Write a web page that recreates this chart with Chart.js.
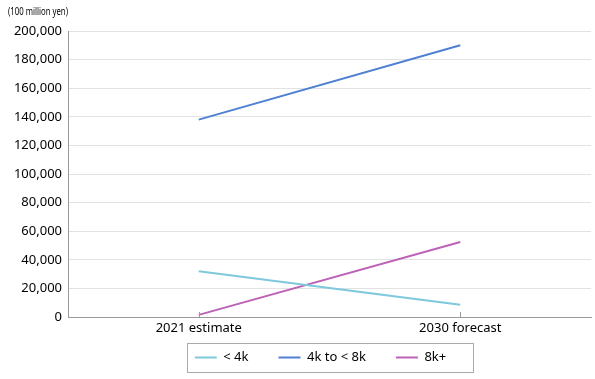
<!DOCTYPE html>
<html>
<head>
<meta charset="utf-8">
<script src="https://cdn.jsdelivr.net/npm/chart.js@4/dist/chart.umd.min.js"></script>
<style>
  html, body { margin: 0; padding: 0; background: #fff; }
  #wrap { width: 595px; height: 379px; }
</style>
</head>
<body>
<div id="wrap"><canvas id="chart" width="595" height="379"></canvas></div>
<script>
// ── Data ───────────────────────────────────────────────
const categories = ['2021 estimate', '2030 forecast'];
const seriesNames = ['< 4k', '4k to < 8k', '8k+'];
const under4k = [32000, 8500];
const from4kTo8k = [138000, 190000];
const over8k = [1500, 52500];
const yTicks = [0, 20000, 40000, 60000, 80000, 100000, 120000, 140000, 160000, 180000, 200000];
const unitLabel = '(100 million yen)';

const colors = ['#7ec8dc', '#4f80d2', '#bd62b6'];
const FONT = 'Noto Sans';
const X_AXIS_H = 26;
const LEGEND_TRIM = X_AXIS_H - 4;   // part of the legend's top padding we let overlap the axis labels

// ── Plugins ────────────────────────────────────────────
// inward tick marks on the category axis + frame round the legend + unit label
const extras = {
  id: 'extras',
  beforeLayout(chart) {
    const lg = chart.legend;
    if (lg && !lg._trimmed) {
      const fit = lg.fit;
      lg.fit = function () { fit.call(this); this.height -= LEGEND_TRIM; };
      lg._trimmed = true;
    }
  },
  afterLayout(chart) {
    const lg = chart.legend;
    // items sit a little left of centre in the original
    lg.left -= 9;
    lg.right -= 9;
    lg.top -= LEGEND_TRIM;
  },
  afterDraw(chart) {
    const ctx = chart.ctx;
    const x = chart.scales.x;
    ctx.save();
    ctx.strokeStyle = '#999';
    ctx.lineWidth = 1;
    categories.forEach((c, i) => {
      const px = Math.round(x.getPixelForValue(i)) + 0.5;
      ctx.beginPath();
      ctx.moveTo(px, x.top);
      ctx.lineTo(px, x.top - 5);
      ctx.stroke();
    });

    const lg = chart.legend;
    if (lg && lg.legendHitBoxes.length) {
      const boxes = lg.legendHitBoxes;
      const last = boxes[boxes.length - 1];
      const l = boxes[0].left - 8, r = last.left + last.width + 27;
      const t = boxes[0].top - 8, b = boxes[0].top + boxes[0].height + 8;
      ctx.strokeStyle = '#aaa';
      ctx.strokeRect(Math.round(l) + 0.5, Math.round(t) + 0.5, Math.round(r - l), Math.round(b - t));
    }

    // unit label, squeezed to the narrow look of the original
    ctx.fillStyle = '#000';
    ctx.font = '11px "Noto Sans"';
    ctx.textBaseline = 'middle';
    const w = ctx.measureText(unitLabel).width;
    ctx.translate(8, 12);
    ctx.scale(60 / w, 1);
    ctx.fillText(unitLabel, 0, 0);
    ctx.restore();
  }
};

const series = [under4k, from4kTo8k, over8k];

new Chart(document.getElementById('chart'), {
  type: 'line',
  data: {
    labels: categories,
    datasets: series.map((d, i) => ({
      label: seriesNames[i],
      data: d,
      borderColor: colors[i],
      backgroundColor: colors[i],
      borderWidth: 2,
      pointRadius: 0,
      tension: 0
    }))
  },
  options: {
    responsive: false,
    animation: false,
    layout: { padding: { top: 31, right: 4, left: 4, bottom: 5 } },
    plugins: {
      tooltip: { enabled: false },
      legend: {
        position: 'bottom',
        fullSize: false,
        labels: {
          color: '#000',
          font: { family: FONT, size: 13 },
          boxWidth: 22,
          boxHeight: 2,
          padding: 30,
          generateLabels(chart) {
            return chart.data.datasets.map((ds, i) => ({
              text: ds.label,
              fillStyle: ds.borderColor,
              strokeStyle: ds.borderColor,
              lineWidth: 0,
              datasetIndex: i,
              fontColor: '#000'
            }));
          }
        }
      }
    },
    scales: {
      x: {
        offset: true,
        grid: { display: false, drawTicks: false },
        border: { color: '#999' },
        ticks: { color: '#000', font: { family: FONT, size: 13 }, padding: 3 },
        afterFit(scale) { scale.height = X_AXIS_H; }
      },
      y: {
        min: 0,
        max: 200000,
        afterBuildTicks(scale) { scale.ticks = yTicks.map(v => ({ value: v })); },
        grid: { color: '#e2e2e2', drawTicks: false },
        border: { color: '#999' },
        ticks: {
          color: '#000',
          font: { family: FONT, size: 13 },
          padding: 6,
          callback: v => v.toLocaleString('en-US')
        },
        afterFit(scale) { scale.width = 64; }
      }
    }
  },
  plugins: [extras]
});
</script>
</body>
</html>
